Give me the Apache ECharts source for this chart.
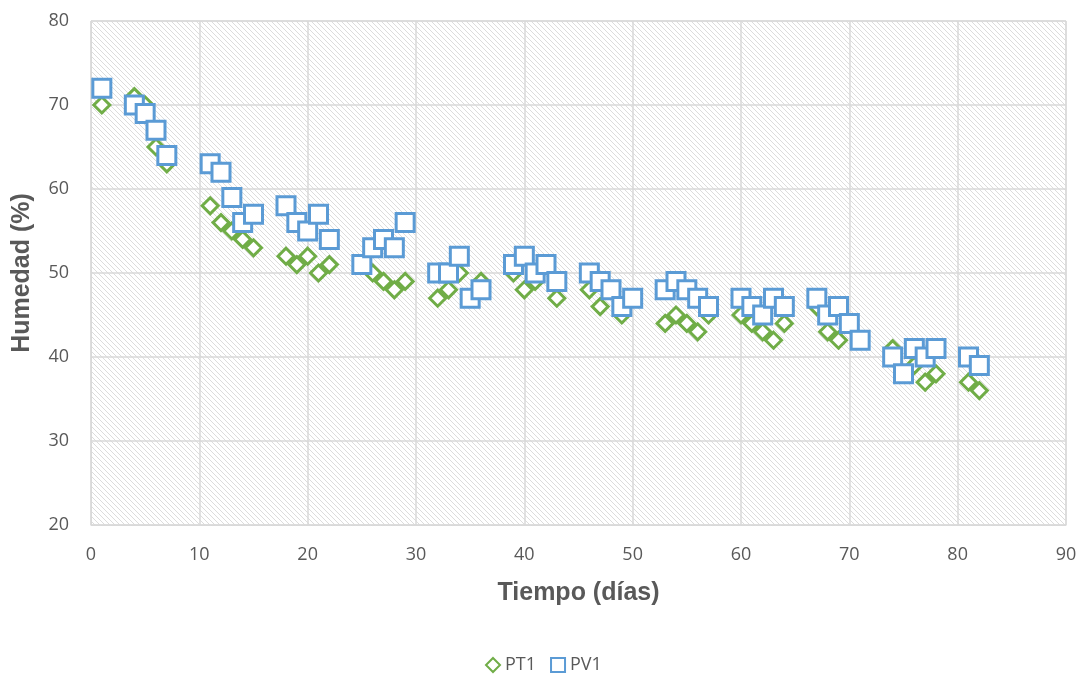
<!DOCTYPE html>
<html>
<head>
<meta charset="utf-8">
<title>Humedad vs Tiempo</title>
<script src="https://cdn.jsdelivr.net/npm/echarts@6/dist/echarts.min.js"></script>
<style>
  html, body { margin: 0; padding: 0; background: #fff; }
  #chart { width: 1080px; height: 674px; }
</style>
</head>
<body>
<div id="chart"></div>
<script>
// PT1 (green diamonds): [day, humidity %]
var pt1Days = [1, 4, 5, 6, 7, 11, 12, 13, 14, 15, 18, 19, 20, 21, 22,
               26, 27, 28, 29, 32, 33, 34, 36, 39, 40, 41, 43, 46, 47, 49,
               53, 54, 55, 56, 57, 60, 61, 62, 63, 64, 67, 68, 69,
               74, 76, 77, 78, 81, 82];
var pt1Values = [70, 71, 70, 65, 63, 58, 56, 55, 54, 53, 52, 51, 52, 50, 51,
                 50, 49, 48, 49, 47, 48, 50, 49, 50, 48, 49, 47, 48, 46, 45,
                 44, 45, 44, 43, 45, 45, 44, 43, 42, 44, 46, 43, 42,
                 41, 39, 37, 38, 37, 36];

// PV1 (blue squares)
var pv1Days = [1, 4, 5, 6, 7, 11, 12, 13, 14, 15, 18, 19, 20, 21, 22,
               25, 26, 27, 28, 29, 32, 33, 34, 35, 36, 39, 40, 41, 42, 43,
               46, 47, 48, 49, 50, 53, 54, 55, 56, 57, 60, 61, 62, 63, 64,
               67, 68, 69, 70, 71, 74, 75, 76, 77, 78, 81, 82];
var pv1Values = [72, 70, 69, 67, 64, 63, 62, 59, 56, 57, 58, 56, 55, 57, 54,
                 51, 53, 54, 53, 56, 50, 50, 52, 47, 48, 51, 52, 50, 51, 49,
                 50, 49, 48, 46, 47, 48, 49, 48, 47, 46, 47, 46, 45, 47, 46,
                 47, 45, 46, 44, 42, 40, 38, 41, 40, 41, 40, 39];

var xTicks = [0, 10, 20, 30, 40, 50, 60, 70, 80, 90];
var yTicks = [20, 30, 40, 50, 60, 70, 80];

function pairs(xs, ys) {
    var out = [];
    for (var i = 0; i < xs.length; i++) {
        out.push([xs[i], ys[i]]);
    }
    return out;
}

// diagonal hatch used as plot area fill
function makeHatch() {
    var c = document.createElement("canvas");
    c.width = 5;
    c.height = 5;
    var ctx = c.getContext("2d");
    ctx.fillStyle = "#ffffff";
    ctx.fillRect(0, 0, 5, 5);
    ctx.fillStyle = "#dcdcdc";
    for (var i = 0; i < 5; i++) {
        ctx.fillRect(i, i, 1, 1);
    }
    return c;
}

var textColor = "#595959";
var gridColor = "#d9d9d9";
var labelFont = "Open Sans, Noto Sans, sans-serif";
var titleFont = "Liberation Sans, Arial, sans-serif";

var chart = echarts.init(document.getElementById("chart"));

var option = {
    animation: false,
    grid: {
        left: 91,
        right: 14,
        top: 21,
        bottom: 149,
        show: true,
        borderColor: gridColor,
        borderWidth: 1,
        backgroundColor: { image: makeHatch(), repeat: "repeat" }
    },
    legend: {
        top: 651,
        left: 480,
        itemWidth: 14,
        itemHeight: 14,
        itemGap: 14,
        textStyle: { color: textColor, fontSize: 18, fontFamily: labelFont },
        data: [
            { name: "PT1", icon: "diamond" },
            { name: "PV1", icon: "rect" }
        ]
    },
    xAxis: {
        type: "value",
        min: xTicks[0],
        max: xTicks[xTicks.length - 1],
        interval: 10,
        name: "Tiempo (días)",
        nameLocation: "middle",
        nameGap: 56,
        nameTextStyle: { color: textColor, fontSize: 25, fontWeight: "bold", fontFamily: titleFont },
        axisLine: { lineStyle: { color: gridColor } },
        axisTick: { show: false },
        axisLabel: { color: textColor, fontSize: 18, margin: 21, fontFamily: labelFont },
        splitLine: { show: true, lineStyle: { color: gridColor, width: 1.5 } }
    },
    yAxis: {
        type: "value",
        min: yTicks[0],
        max: yTicks[yTicks.length - 1],
        interval: 10,
        name: "Humedad (%)",
        nameLocation: "middle",
        nameGap: 56,
        nameTextStyle: { color: textColor, fontSize: 25, fontWeight: "bold", fontFamily: titleFont },
        axisLine: { show: true, lineStyle: { color: gridColor } },
        axisTick: { show: false },
        axisLabel: { color: textColor, fontSize: 18, margin: 22, fontFamily: labelFont },
        splitLine: { show: true, lineStyle: { color: gridColor, width: 1.5 } }
    },
    series: [
        {
            name: "PT1",
            type: "scatter",
            symbol: "diamond",
            symbolSize: 16,
            itemStyle: { color: "#ffffff", borderColor: "#70ad47", borderWidth: 3, opacity: 1 },
            data: pairs(pt1Days, pt1Values)
        },
        {
            name: "PV1",
            type: "scatter",
            symbol: "rect",
            symbolSize: 18,
            itemStyle: { color: "#ffffff", borderColor: "#5b9bd5", borderWidth: 3, opacity: 1 },
            data: pairs(pv1Days, pv1Values)
        }
    ]
};

chart.setOption(option);
</script>
</body>
</html>
